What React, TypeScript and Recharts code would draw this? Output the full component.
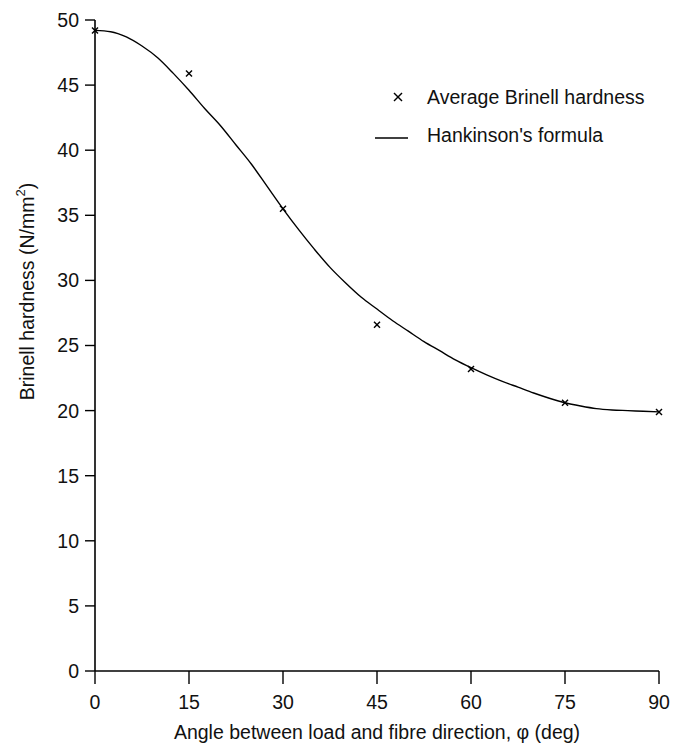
import React from 'react';
import {
  ComposedChart,
  Line,
  Scatter,
  XAxis,
  YAxis,
} from 'recharts';

// measured averages
const angles = [0, 15, 30, 45, 60, 75, 90];
const hardness = [49.2, 45.9, 35.5, 26.6, 23.2, 20.6, 19.9];

// Hankinson curve
const curveAngles = [
  0, 2.5, 5, 7.5, 10, 12.5, 15, 17.5, 20, 22.5, 25, 27.5, 30, 32.5, 35, 37.5,
  40, 42.5, 45, 47.5, 50, 52.5, 55, 57.5, 60, 62.5, 65, 67.5, 70, 72.5, 75,
  77.5, 80, 82.5, 85, 87.5, 90,
];
const curveValues = [
  49.2, 49.1, 48.7, 48.0, 47.1, 45.9, 44.6, 43.2, 41.9, 40.4, 38.9, 37.2,
  35.5, 33.9, 32.4, 31.0, 29.8, 28.7, 27.8, 26.9, 26.1, 25.3, 24.6, 23.9,
  23.3, 22.75, 22.25, 21.8, 21.35, 20.95, 20.6, 20.35, 20.15, 20.05, 20.0,
  19.95, 19.9,
];

const xTicks = [0, 15, 30, 45, 60, 75, 90];
const yTicks = [0, 5, 10, 15, 20, 25, 30, 35, 40, 45, 50];

const points = angles.map((a, i) => ({ angle: a, value: hardness[i] }));
const curve = curveAngles.map((a, i) => ({ angle: a, value: curveValues[i] }));

const FONT = '"Liberation Sans", Arial, Helvetica, sans-serif';
const FS = 19.5;

function Cross(props: any) {
  const { cx, cy } = props;
  const s = 3;
  return (
    <g stroke="#000" strokeWidth={1.4}>
      <line x1={cx - s} y1={cy - s} x2={cx + s} y2={cy + s} />
      <line x1={cx - s} y1={cy + s} x2={cx + s} y2={cy - s} />
    </g>
  );
}

// legend drawn over the chart so it doesn't steal plot space
function LegendBox() {
  return (
    <div
      style={{
        position: 'absolute',
        left: 375,
        top: 78,
        fontFamily: FONT,
        fontSize: FS,
        color: '#111',
      }}
    >
      <div style={{ display: 'flex', alignItems: 'center', height: 38 }}>
        <svg width={52} height={20}>
          <g stroke="#000" strokeWidth={1.5}>
            <line x1={19} y1={6} x2={27} y2={14} />
            <line x1={19} y1={14} x2={27} y2={6} />
          </g>
        </svg>
        <span>Average Brinell hardness</span>
      </div>
      <div style={{ display: 'flex', alignItems: 'center', height: 38 }}>
        <svg width={52} height={20}>
          <line x1={0} y1={13} x2={33} y2={13} stroke="#000" strokeWidth={1.4} />
        </svg>
        <span>Hankinson's formula</span>
      </div>
    </div>
  );
}

export default function App() {
  return (
    <div style={{ position: 'absolute', left: 0, top: 0, width: 678, height: 745, background: '#fff' }}>
      <ComposedChart
        width={678}
        height={745}
        margin={{ top: 20, right: 19, left: 0, bottom: 0 }}
      >
        <XAxis
          type="number"
          dataKey="angle"
          domain={[0, 90]}
          ticks={xTicks}
          interval={0}
          height={74}
          tickSize={13}
          tickMargin={11}
          axisLine={{ stroke: '#000', strokeWidth: 1.6 }}
          tickLine={{ stroke: '#000', strokeWidth: 1.4 }}
          tick={{ fill: '#111', fontSize: FS, fontFamily: FONT }}
          label={(p: any) => {
            const vb = p.viewBox;
            return (
              <text
                x={vb.x + vb.width / 2}
                y={vb.y + 68}
                textAnchor="middle"
                fill="#111"
                fontSize={FS}
                fontFamily={FONT}
              >
                Angle between load and fibre direction, φ (deg)
              </text>
            );
          }}
        />
        <YAxis
          type="number"
          dataKey="value"
          domain={[0, 50]}
          ticks={yTicks}
          interval={0}
          width={95}
          tickSize={10}
          tickMargin={6}
          axisLine={{ stroke: '#000', strokeWidth: 1.6 }}
          tickLine={{ stroke: '#000', strokeWidth: 1.4 }}
          tick={{ fill: '#111', fontSize: FS, fontFamily: FONT }}
          label={(p: any) => {
            const vb = p.viewBox;
            const cx = vb.x + 27;
            const cy = vb.y + vb.height / 2 - 54;
            return (
              <text
                x={cx}
                y={cy}
                transform={`rotate(-90, ${cx}, ${cy})`}
                textAnchor="middle"
                dominantBaseline="central"
                fill="#111"
                fontSize={FS}
                fontFamily={FONT}
              >
                Brinell hardness (N/mm
                <tspan fontSize={13} dy={-7}>2</tspan>
                <tspan dy={7}>)</tspan>
              </text>
            );
          }}
        />
        <Line
          data={curve}
          dataKey="value"
          type="monotone"
          stroke="#000"
          strokeWidth={1.4}
          dot={false}
          activeDot={false}
          isAnimationActive={false}
          name="Hankinson's formula"
        />
        <Scatter
          data={points}
          dataKey="value"
          shape={Cross}
          isAnimationActive={false}
          name="Average Brinell hardness"
        />
      </ComposedChart>
      <LegendBox />
    </div>
  );
}
